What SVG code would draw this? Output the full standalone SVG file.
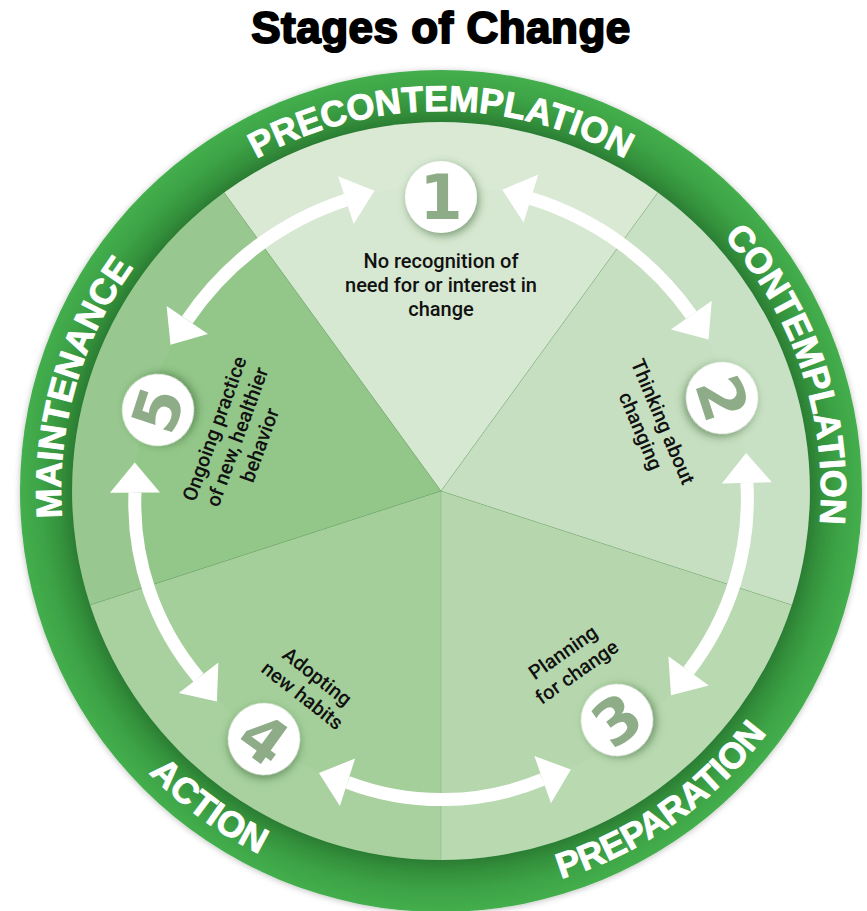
<svg xmlns="http://www.w3.org/2000/svg" width="867" height="911" viewBox="0 0 867 911">
  <defs>
    <style>
      .title { font-family: "Liberation Sans", Arial, sans-serif; font-weight: bold; font-size: 44px; fill: #000; stroke: #000; stroke-width: 2px; stroke-linejoin: round; text-anchor: middle; letter-spacing: 0.5px; }
      .ringlabel { font-family: "Liberation Sans", Arial, sans-serif; font-weight: bold; font-size: 36px; fill: #fff; stroke: #fff; stroke-width: 0.9px; stroke-linejoin: round; }
      .desc { font-family: Roboto, "Liberation Sans", sans-serif; font-weight: 500; font-size: 20px; fill: #111; text-anchor: middle; }
      .badge { fill: #fff; }
      .num { font-family: "DejaVu Sans", "Liberation Sans", sans-serif; font-weight: bold; font-size: 62px; fill: #8dac87; text-anchor: middle; }
      .shaft { fill: none; stroke: #fff; stroke-width: 13; }
      .head { fill: #fff; }
      .divider { stroke: #6f9a66; stroke-opacity: 0.35; stroke-width: 0.8; }
    </style>
    <radialGradient id="ringGrad" gradientUnits="userSpaceOnUse" cx="441" cy="491" r="421">
      <stop offset="0" stop-color="#2b7d33"/>
      <stop offset="0.876" stop-color="#2b7d33"/>
      <stop offset="0.905" stop-color="#33903b"/>
      <stop offset="0.95" stop-color="#3da346"/>
      <stop offset="1" stop-color="#44ae4d"/>
    </radialGradient>
    <filter id="ringShadow" x="-10%" y="-10%" width="120%" height="120%">
      <feGaussianBlur in="SourceAlpha" stdDeviation="3"/>
      <feOffset dx="0" dy="1" result="b"/>
      <feFlood flood-color="#000" flood-opacity="0.25"/>
      <feComposite in2="b" operator="in"/>
      <feMerge><feMergeNode/><feMergeNode in="SourceGraphic"/></feMerge>
    </filter>
    <filter id="badgeShadow" x="-50%" y="-50%" width="200%" height="200%">
      <feGaussianBlur in="SourceAlpha" stdDeviation="4"/>
      <feOffset dx="2" dy="3" result="b"/>
      <feFlood flood-color="#2f5d2c" flood-opacity="0.55"/>
      <feComposite in2="b" operator="in"/>
      <feMerge><feMergeNode/><feMergeNode in="SourceGraphic"/></feMerge>
    </filter>
    <!-- baselines for the ring labels: clockwise on top, counter-clockwise below -->
    <path id="arcPre" d="M111.9,301 A380,380 0 0 1 770.1,301"/>
    <path id="arcCon" d="M516.8,118.6 A380,380 0 0 1 725.6,742.8"/>
    <path id="arcMai" d="M167.7,755 A380,380 0 0 1 349.1,122.3"/>
    <path id="arcAct" d="M37.4,446.5 A406,406 0 0 0 604.2,862.8"/>
    <path id="arcPrep" d="M271.3,859.9 A406,406 0 0 0 845.3,453.5"/>
  </defs>

  <rect width="867" height="911" fill="#fff"/>

  <text class="title" x="441" y="43">Stages of Change</text>

  <!-- outer ring -->
  <g id="ring">
    <circle cx="441" cy="491" r="421" fill="url(#ringGrad)" filter="url(#ringShadow)"/>
  </g>

  <!-- pie sectors -->
  <g id="sectors">
    <path d="M441,491 L224.1,192.5 A369,369 0 0 1 657.9,192.5 Z" fill="#d7e8d2"/>
    <path d="M441,491 L657.9,192.5 A369,369 0 0 1 791.9,605 Z" fill="#c6dfc0"/>
    <path d="M441,491 L791.9,605 A369,369 0 0 1 441,860 Z" fill="#b6d7ad"/>
    <path d="M441,491 L441,860 A369,369 0 0 1 90.1,605 Z" fill="#a4cf9a"/>
    <path d="M441,491 L90.1,605 A369,369 0 0 1 224.1,192.5 Z" fill="#93c689"/>
    <path d="M72,491 A369,369 0 1 1 810,491 A369,369 0 1 1 72,491 Z M135,491 A306,306 0 1 0 747,491 A306,306 0 1 0 135,491 Z" fill="#fff" fill-opacity="0.05" fill-rule="evenodd"/>
    <line class="divider" x1="441" y1="491" x2="224.1" y2="192.5"/>
    <line class="divider" x1="441" y1="491" x2="657.9" y2="192.5"/>
    <line class="divider" x1="441" y1="491" x2="791.9" y2="605"/>
    <line class="divider" x1="441" y1="491" x2="441" y2="860"/>
    <line class="divider" x1="441" y1="491" x2="90.1" y2="605"/>
  </g>

  <!-- double-headed arrows between the stages -->
  <g id="connectors">
    <path class="shaft" d="M530.96,198.53 A306,306 0 0 1 691.3,315.05"/>
    <polygon class="head" points="502.3,189.7 538.3,174.6 523.6,222.4"/>
    <polygon class="head" points="708.55,339.6 711.75,300.7 670.85,329.4"/>

    <path class="shaft" d="M746.9,482.99 A280,280 0 0 1 688.6,670.9"/>
    <polygon class="head" points="746.1,453 771.9,482.3 721.9,483.6"/>
    <polygon class="head" points="671,695.2 708.8,685.6 668.4,656.2"/>

    <path class="shaft" d="M542.65,779.6 A265,265 0 0 1 347.5,782.3"/>
    <polygon class="head" points="570.9,769.6 550.95,803.2 534.35,756"/>
    <polygon class="head" points="318.9,773.1 339.9,806.1 355.1,758.5"/>

    <path class="shaft" d="M198.6,677.7 A270,270 0 0 1 135,492.6"/>
    <polygon class="head" points="216.9,701.5 178.8,692.95 218.4,662.4"/>
    <polygon class="head" points="134.8,462.6 110,492.7 160,492.5"/>

    <path class="shaft" d="M187.3,319.9 A306,306 0 0 1 345.9,200.1"/>
    <polygon class="head" points="170.5,344.8 166.6,305.9 208,333.9"/>
    <polygon class="head" points="374.4,190.8 338.1,176.3 353.7,223.9"/>
  </g>

  <g id="stage-1">
    <text class="ringlabel"><textPath href="#arcPre" startOffset="50%" text-anchor="middle">PRECONTEMPLATION</textPath></text>
    <g transform="translate(441,197)">
      <circle class="badge" r="36" filter="url(#badgeShadow)"/>
      <text class="num" y="22">1</text>
    </g>
    <text class="desc" x="441" y="268">No recognition of</text>
    <text class="desc" x="441" y="292">need for or interest in</text>
    <text class="desc" x="441" y="316">change</text>
  </g>

  <g id="stage-2">
    <text class="ringlabel"><textPath href="#arcCon" startOffset="50%" text-anchor="middle">CONTEMPLATION</textPath></text>
    <g transform="translate(722,398) rotate(72)">
      <circle class="badge" r="36" filter="url(#badgeShadow)"/>
      <text class="num" y="22">2</text>
    </g>
    <g transform="translate(656.5,424.3) rotate(67)">
      <text class="desc" x="0" y="0">Thinking about</text>
      <text class="desc" x="0" y="24">changing</text>
    </g>
  </g>

  <g id="stage-3">
    <text class="ringlabel"><textPath href="#arcPrep" startOffset="50%" text-anchor="middle">PREPARATION</textPath></text>
    <g transform="translate(617,720) rotate(-36)">
      <circle class="badge" r="36" filter="url(#badgeShadow)"/>
      <text class="num" y="22">3</text>
    </g>
    <g transform="translate(567,658) rotate(-35)">
      <text class="desc" x="0" y="0">Planning</text>
      <text class="desc" x="0" y="24">for change</text>
    </g>
  </g>

  <g id="stage-4">
    <text class="ringlabel"><textPath href="#arcAct" startOffset="50%" text-anchor="middle">ACTION</textPath></text>
    <g transform="translate(264,739) rotate(36)">
      <circle class="badge" r="36" filter="url(#badgeShadow)"/>
      <text class="num" y="22">4</text>
    </g>
    <g transform="translate(313,682) rotate(38)">
      <text class="desc" x="0" y="0">Adopting</text>
      <text class="desc" x="0" y="24">new habits</text>
    </g>
  </g>

  <g id="stage-5">
    <text class="ringlabel"><textPath href="#arcMai" startOffset="50%" text-anchor="middle">MAINTENANCE</textPath></text>
    <g transform="translate(158,410) rotate(-72)">
      <circle class="badge" r="36" filter="url(#badgeShadow)"/>
      <text class="num" y="22">5</text>
    </g>
    <g transform="translate(221,431) rotate(-70)">
      <text class="desc" x="0" y="0">Ongoing practice</text>
      <text class="desc" x="0" y="24">of new, healthier</text>
      <text class="desc" x="0" y="48">behavior</text>
    </g>
  </g>
</svg>
